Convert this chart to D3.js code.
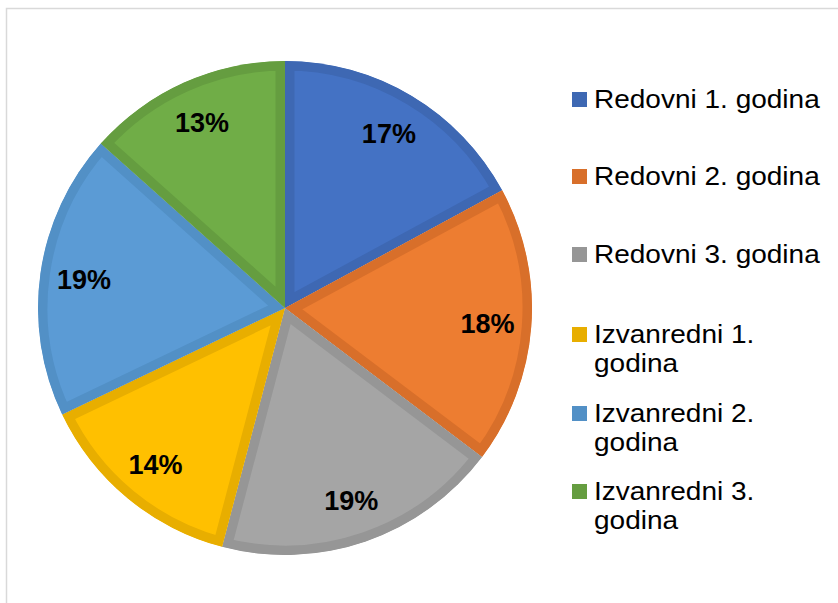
<!DOCTYPE html>
<html>
<head>
<meta charset="utf-8">
<script src="https://cdn.jsdelivr.net/npm/d3@7"></script>
<style>
  body { margin: 0; background: #fff; }
  svg { display: block; font-family: "Liberation Sans", Arial, sans-serif; }
</style>
</head>
<body>
<div id="chart"></div>
<script>
"use strict"

var width = 838,
	height = 603;

// shares (percent)
var categories = ["Redovni 1. godina", "Redovni 2. godina", "Redovni 3. godina",
	"Izvanredni 1. godina", "Izvanredni 2. godina", "Izvanredni 3. godina"];
var values = [17.1, 18.2, 18.8, 13.8, 18.7, 13.4];
// legend lines (long names wrap in the original)
var legendLines = [["Redovni 1. godina"], ["Redovni 2. godina"], ["Redovni 3. godina"],
	["Izvanredni 1.", "godina"], ["Izvanredni 2.", "godina"], ["Izvanredni 3.", "godina"]];

var fills = ["#4472c4", "#ed7d31", "#a5a5a5", "#ffc000", "#5b9bd5", "#70ad47"];
var edges = ["#3e68b3", "#d86f2a", "#969696", "#e8ae00", "#5290c6", "#659d40"];

var cx = 285, cy = 308, r = 247;

var svg = d3.select("#chart").append("svg")
	.attr("width", width)
	.attr("height", height);

// chart area frame
svg.append("rect")
	.attr("x", 6.5).attr("y", 8.5)
	.attr("width", 900).attr("height", 700)
	.attr("fill", "none")
	.attr("stroke", "#d9d9d9")
	.attr("stroke-width", 1.5);

var pie = d3.pie().sort(null).value(function(d) { return d; });
var arcs = pie(values);

var arc = d3.arc().innerRadius(0).outerRadius(r);
var labelArc = d3.arc().innerRadius(203).outerRadius(203);

var g = svg.append("g").attr("transform", "translate(" + cx + "," + cy + ")");

var defs = svg.append("defs");
defs.selectAll("clipPath").data(arcs).enter().append("clipPath")
	.attr("id", function(d, i) { return "clip" + i; })
	.append("path")
	.attr("d", arc);

// slices with an inner darker border
g.selectAll("path.slice").data(arcs).enter().append("path")
	.attr("class", "slice")
	.attr("d", arc)
	.attr("fill", function(d, i) { return fills[i]; })
	.attr("stroke", function(d, i) { return edges[i]; })
	.attr("stroke-width", 19)
	.attr("stroke-linejoin", "miter")
	.attr("clip-path", function(d, i) { return "url(#clip" + i + ")"; });

g.selectAll("text.pct").data(arcs).enter().append("text")
	.attr("class", "pct")
	.attr("transform", function(d) { return "translate(" + labelArc.centroid(d) + ")"; })
	.attr("text-anchor", "middle")
	.attr("dy", "0.36em")
	.style("font-size", "27px")
	.style("font-weight", "bold")
	.attr("fill", "#000")
	.text(function(d) { return Math.round(d.value) + "%"; });

// legend
var rowY = [108, 185, 263, 343, 422, 500];
var lineGap = 29;

var legend = svg.append("g");
var rows = legend.selectAll("g").data(categories).enter().append("g")
	.attr("transform", function(d, i) { return "translate(0," + rowY[i] + ")"; });

rows.append("rect")
	.attr("x", 572).attr("y", -16)
	.attr("width", 15).attr("height", 15)
	.attr("fill", function(d, i) { return edges[i]; });

rows.each(function(d, i) {
	var row = d3.select(this);
	legendLines[i].forEach(function(line, j) {
		var t = row.append("text")
			.attr("x", 594)
			.attr("y", j * lineGap)
			.style("font-size", "25px")
			.attr("fill", "#000")
			.text(line);
		var w = t.node().getComputedTextLength();
		t.attr("textLength", w * 1.12).attr("lengthAdjust", "spacingAndGlyphs");
	});
});
</script>
</body>
</html>
